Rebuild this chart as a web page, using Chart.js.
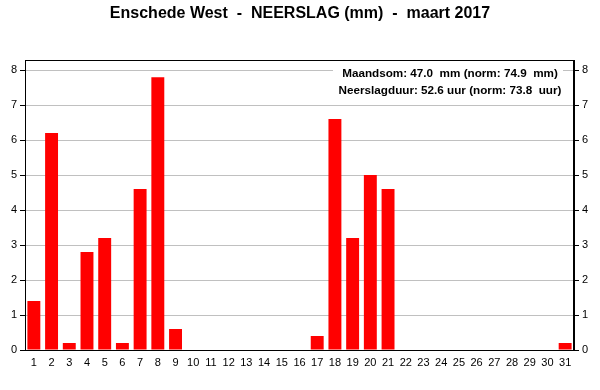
<!DOCTYPE html>
<html>
<head>
<meta charset="utf-8">
<script src="https://cdn.jsdelivr.net/npm/chart.js@4"></script>
<style>
  body { margin: 0; background: #fff; }
  #wrap { width: 600px; height: 390px; }
</style>
</head>
<body>
<div id="wrap"><canvas id="chart" width="600" height="390"></canvas></div>
<script>
const days = ['1','2','3','4','5','6','7','8','9','10','11','12','13','14','15','16','17','18','19','20','21','22','23','24','25','26','27','28','29','30','31'];
const neerslag = [1.4, 6.2, 0.2, 2.8, 3.2, 0.2, 4.6, 7.8, 0.6, 0, 0, 0, 0, 0, 0, 0, 0.4, 6.6, 3.2, 5.0, 4.6, 0, 0, 0, 0, 0, 0, 0, 0, 0, 0.2];
const yTicks = [0, 1, 2, 3, 4, 5, 6, 7, 8];
const titleText = 'Enschede West  -  NEERSLAG (mm)  -  maart 2017';
const infoLines = [
    'Maandsom: 47.0  mm (norm: 74.9  mm)',
    'Neerslagduur: 52.6 uur (norm: 73.8  uur)'
];

// title + info box drawn on the canvas
const extras = {
    id: 'extras',
    afterDraw(chart) {
        const ctx = chart.ctx;
        const area = chart.chartArea;
        ctx.save();
        ctx.fillStyle = '#000';
        ctx.font = 'bold 16px Arial, "Liberation Sans", sans-serif';
        ctx.textAlign = 'center';
        ctx.textBaseline = 'middle';
        ctx.fillText(titleText, 300, 14);

        // frame
        ctx.strokeStyle = '#000';
        ctx.lineWidth = 1;
        ctx.strokeRect(area.left + 0.5, area.top + 0.5, area.right - area.left - 1, area.bottom - area.top);

        // info box
        ctx.fillStyle = '#fff';
        ctx.fillRect(333, 63, 230, 37);
        ctx.fillStyle = '#000';
        ctx.font = 'bold 11.7px Arial, "Liberation Sans", sans-serif';
        ctx.textAlign = 'center';
        ctx.fillText(infoLines[0], 450, 74);
        ctx.fillText(infoLines[1], 450, 91);
        ctx.restore();
    }
};

const intTicks = axis => {
    axis.ticks = yTicks.map(v => ({ value: v }));
};

const ctx = document.getElementById('chart').getContext('2d');
new Chart(ctx, {
    type: 'bar',
    data: {
        labels: days,
        datasets: [{
            data: neerslag,
            backgroundColor: '#ff0000',
            borderWidth: 0,
            categoryPercentage: 1,
            barPercentage: 0.73
        }]
    },
    options: {
        responsive: false,
        animation: false,
        layout: { padding: { top: 60, left: 0, right: 0, bottom: 0 } },
        plugins: {
            legend: { display: false },
            title: { display: false },
            tooltip: { enabled: false }
        },
        scales: {
            x: {
                grid: { display: false, drawTicks: true, tickLength: 5, color: '#000' },
                border: { color: '#000' },
                ticks: {
                    color: '#000',
                    font: { family: 'Arial, "Liberation Sans", sans-serif', size: 11 },
                    maxRotation: 0,
                    autoSkip: false,
                    padding: 1
                },
                afterFit(axis) { axis.height = 40; }
            },
            y: {
                position: 'left',
                min: 0,
                max: 8.29,
                afterBuildTicks: intTicks,
                grid: {
                    color: ctx => ctx.tick && ctx.tick.value === 0 ? 'rgba(0,0,0,0)' : '#c0c0c0',
                    tickColor: '#000',
                    tickLength: 5
                },
                border: { color: '#000' },
                ticks: {
                    color: '#000',
                    font: { family: 'Arial, "Liberation Sans", sans-serif', size: 11 },
                    padding: 3
                },
                afterFit(axis) { axis.width = 25; }
            },
            y2: {
                position: 'right',
                min: 0,
                max: 8.29,
                afterBuildTicks: intTicks,
                grid: { drawOnChartArea: false, tickColor: '#000', tickLength: 5 },
                border: { color: '#000' },
                ticks: {
                    color: '#000',
                    font: { family: 'Arial, "Liberation Sans", sans-serif', size: 11 },
                    padding: 3
                },
                afterFit(axis) { axis.width = 26; }
            }
        }
    },
    plugins: [extras]
});
</script>
</body>
</html>
